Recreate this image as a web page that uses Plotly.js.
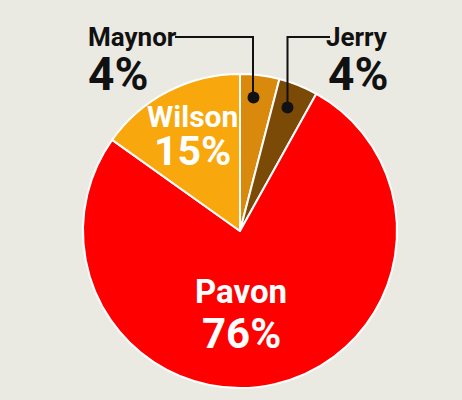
<!DOCTYPE html>
<html>
<head>
<meta charset="utf-8">
<script src="https://cdn.plot.ly/plotly-3.0.1.min.js"></script>
<style>
  html, body { margin: 0; padding: 0; background: #eae9e2; }
  #chart { width: 462px; height: 400px; }
</style>
</head>
<body>
<div id="chart"></div>
<script>
// Data (clockwise from 12 o'clock)
const candidates = ["Maynor", "Jerry", "Pavon", "Wilson"];
const shares = [4, 4, 76, 15];
const sliceColors = ["#d98a0c", "#7c4a07", "#ff0000", "#f8a70c"];

const W = 462, H = 400;
const px = x => x / W;
const py = y => 1 - y / H;
const FONT = "Roboto, 'Liberation Sans', sans-serif";

// Label layout (pixel positions of label blocks)
const labelPos = {
  Maynor: { x: 86, nameY: 37, pctY: 74, anchor: "left", color: "#111111", nameSize: 26, pctSize: 46 },
  Jerry:  { x: 390, nameY: 37, pctY: 74, anchor: "right", color: "#111111", nameSize: 26, pctSize: 46 },
  Wilson: { x: 192, nameY: 116, pctY: 151, anchor: "center", color: "#ffffff", nameSize: 30, pctSize: 41 },
  Pavon:  { x: 241, nameY: 291, pctY: 333, anchor: "center", color: "#ffffff", nameSize: 33, pctSize: 42 }
};

const annotations = [];
candidates.forEach((name, i) => {
  const p = labelPos[name];
  annotations.push({
    xref: "paper", yref: "paper", x: px(p.x), y: py(p.nameY),
    xanchor: p.anchor, yanchor: "middle", showarrow: false,
    text: "<b>" + name + "</b>",
    font: { family: FONT, size: p.nameSize, color: p.color }
  });
  annotations.push({
    xref: "paper", yref: "paper", x: px(p.x), y: py(p.pctY),
    xanchor: p.anchor, yanchor: "middle", showarrow: false,
    text: "<b>" + shares[i] + "%</b>",
    font: { family: FONT, size: p.pctSize, color: p.color }
  });
});

// Leader lines and dots for the small slices
const lineStyle = { color: "#111111", width: 2 };
const shapes = [
  { type: "path", xref: "paper", yref: "paper",
    path: `M ${px(175)} ${py(37)} L ${px(253)} ${py(37)} L ${px(253)} ${py(97)}`,
    line: lineStyle },
  { type: "path", xref: "paper", yref: "paper",
    path: `M ${px(330)} ${py(37)} L ${px(287.5)} ${py(37)} L ${px(287.5)} ${py(107)}`,
    line: lineStyle },
  { type: "circle", xref: "paper", yref: "paper",
    x0: px(247.5), x1: px(259.5), y0: py(91.5), y1: py(103.5),
    fillcolor: "#111111", line: { width: 0 } },
  { type: "circle", xref: "paper", yref: "paper",
    x0: px(281.5), x1: px(293.5), y0: py(101.5), y1: py(113.5),
    fillcolor: "#111111", line: { width: 0 } }
];

const trace = {
  type: "pie",
  labels: candidates,
  values: shares,
  sort: false,
  direction: "clockwise",
  rotation: 0,
  textinfo: "none",
  hoverinfo: "label+percent",
  marker: { colors: sliceColors, line: { color: "#ffffff", width: 2 } },
  domain: { x: [px(83), px(397)], y: [py(388), py(74)] },
  showlegend: false
};

const layout = {
  width: W, height: H,
  margin: { l: 0, r: 0, t: 0, b: 0 },
  paper_bgcolor: "#eae9e2",
  plot_bgcolor: "#eae9e2",
  showlegend: false,
  annotations: annotations,
  shapes: shapes
};

Plotly.newPlot("chart", [trace], layout, { displayModeBar: false, staticPlot: true });
</script>
</body>
</html>
